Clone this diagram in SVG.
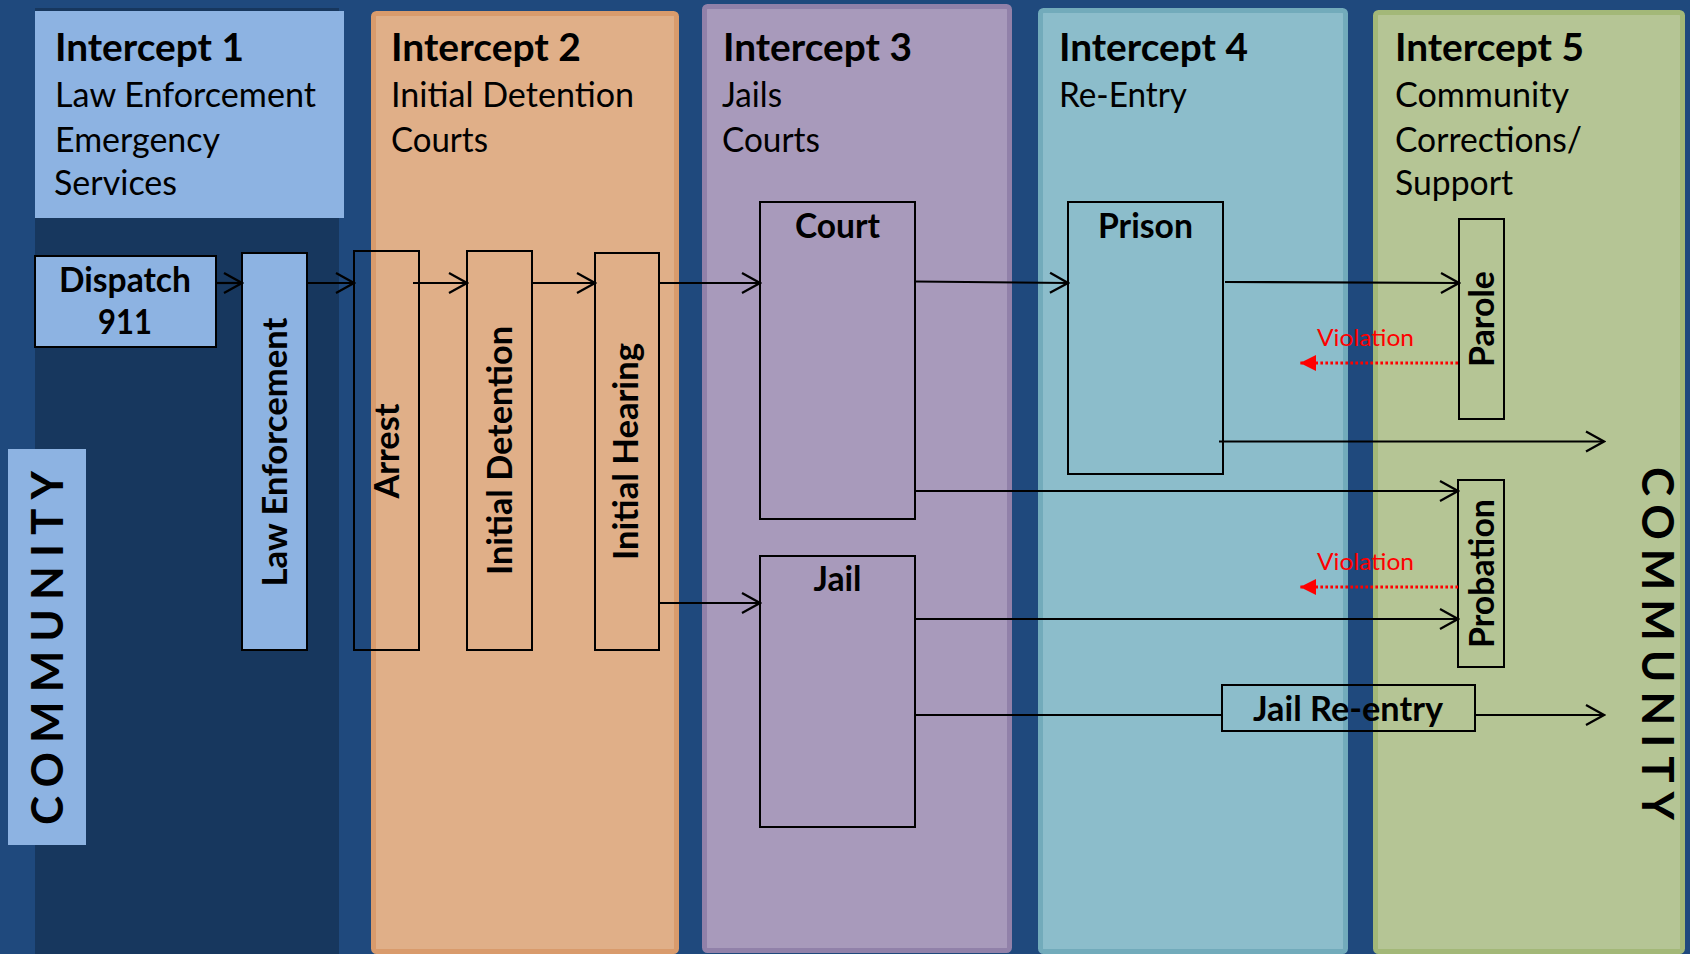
<svg xmlns="http://www.w3.org/2000/svg" width="1690" height="954" viewBox="0 0 1690 954">
<defs>
<style>
.t{font-family:Lato,'Liberation Sans',sans-serif;fill:#000}
.h{font-size:38px;font-weight:700}
.s{font-size:34px;font-weight:400}
.n{font-size:34px;font-weight:700}
.cm{font-size:44px;font-weight:700}
.vt{font-family:Lato,'Liberation Sans',sans-serif;font-size:24px;fill:#F00}
.box{fill:none;stroke:#000;stroke-width:2}
.lb{fill:#8DB3E2;stroke:#000;stroke-width:2}
.c{stroke:#000;stroke-width:2.2;fill:none}
.v{stroke:#F00;stroke-width:3;stroke-dasharray:2.6 2.4;fill:none}
</style>
<marker id="ah" markerUnits="userSpaceOnUse" viewBox="-21 -12 23 24" refX="0" refY="0" markerWidth="23" markerHeight="24" orient="auto"><path d="M-18,-10 L0,0 L-18,10" fill="none" stroke="#000" stroke-width="2.2"/></marker>
<marker id="rh" markerUnits="userSpaceOnUse" viewBox="-17 -9 18 18" refX="0" refY="0" markerWidth="18" markerHeight="18" orient="auto"><path d="M-16,-8 L0,0 L-16,8 Z" fill="#F00"/></marker>
</defs>

<rect x="0" y="0" width="1690" height="954" fill="#1F497D"/>

<g id="panels">
<rect x="35" y="8" width="304" height="946" fill="#17375E"/>
<rect x="35" y="11" width="309" height="207" fill="#8DB3E2"/>
<rect x="373.5" y="13.5" width="303" height="938" rx="3" fill="#E0AF88" stroke="#D99B6C" stroke-width="5"/>
<rect x="704.5" y="6.5" width="305" height="944" rx="3" fill="#A89ABB" stroke="#9181A9" stroke-width="5"/>
<rect x="1040.5" y="10.5" width="305" height="941" rx="3" fill="#8CBDCB" stroke="#72ABBB" stroke-width="5"/>
<rect x="1375.5" y="12.5" width="307" height="939" rx="3" fill="#B5C595" stroke="#A3B878" stroke-width="5"/>
</g>

<g id="headers" class="t">
<text class="t h" x="55" y="61" textLength="189" lengthAdjust="spacingAndGlyphs">Intercept 1</text>
<text class="t s" x="55" y="107" textLength="261" lengthAdjust="spacingAndGlyphs">Law Enforcement</text>
<text class="t s" x="55" y="152" textLength="165" lengthAdjust="spacingAndGlyphs">Emergency</text>
<text class="t s" x="54" y="195" textLength="123" lengthAdjust="spacingAndGlyphs">Services</text>

<text class="t h" x="391" y="61" textLength="190" lengthAdjust="spacingAndGlyphs">Intercept 2</text>
<text class="t s" x="391" y="107" textLength="243" lengthAdjust="spacingAndGlyphs">Initial Detention</text>
<text class="t s" x="391" y="152" textLength="97" lengthAdjust="spacingAndGlyphs">Courts</text>

<text class="t h" x="723" y="61" textLength="189" lengthAdjust="spacingAndGlyphs">Intercept 3</text>
<text class="t s" x="722" y="107" textLength="60" lengthAdjust="spacingAndGlyphs">Jails</text>
<text class="t s" x="722" y="152" textLength="98" lengthAdjust="spacingAndGlyphs">Courts</text>

<text class="t h" x="1059" y="61" textLength="189" lengthAdjust="spacingAndGlyphs">Intercept 4</text>
<text class="t s" x="1059" y="107" textLength="128" lengthAdjust="spacingAndGlyphs">Re-Entry</text>

<text class="t h" x="1395" y="61" textLength="189" lengthAdjust="spacingAndGlyphs">Intercept 5</text>
<text class="t s" x="1395" y="107" textLength="174" lengthAdjust="spacingAndGlyphs">Community</text>
<text class="t s" x="1395" y="152" textLength="187" lengthAdjust="spacingAndGlyphs">Corrections/</text>
<text class="t s" x="1395" y="195" textLength="118" lengthAdjust="spacingAndGlyphs">Support</text>
</g>

<g id="community-left">
<rect x="8" y="449" width="78" height="396" fill="#8DB3E2"/>
<text class="t cm" transform="translate(63,825) rotate(-90)" x="0" y="0" textLength="354" lengthAdjust="spacing">COMMUNITY</text>
</g>

<g id="community-right">
<text class="t cm" transform="translate(1642,467) rotate(90)" x="0" y="0" textLength="353" lengthAdjust="spacing">COMMUNITY</text>
</g>

<g id="dispatch">
<rect class="lb" x="35" y="256" width="181" height="91"/>
<text class="t n" x="125" y="292" text-anchor="middle" textLength="132" lengthAdjust="spacingAndGlyphs">Dispatch</text>
<text class="t n" x="125" y="334" text-anchor="middle" textLength="54" lengthAdjust="spacingAndGlyphs">911</text>
</g>

<g id="law-enforcement">
<rect class="lb" x="242" y="253" width="65" height="397"/>
<text class="t n" transform="translate(287,452) rotate(-90)" text-anchor="middle" textLength="269" lengthAdjust="spacingAndGlyphs">Law Enforcement</text>
</g>

<g id="arrest">
<rect class="box" x="354" y="251" width="65" height="399"/>
<text class="t n" transform="translate(399,451) rotate(-90)" text-anchor="middle" textLength="95" lengthAdjust="spacingAndGlyphs">Arrest</text>
</g>

<g id="initial-detention">
<rect class="box" x="467" y="251" width="65" height="399"/>
<text class="t n" transform="translate(512,450.5) rotate(-90)" text-anchor="middle" textLength="249" lengthAdjust="spacingAndGlyphs">Initial Detention</text>
</g>

<g id="initial-hearing">
<rect class="box" x="595" y="253" width="64" height="397"/>
<text class="t n" transform="translate(638,451.5) rotate(-90)" text-anchor="middle" textLength="217" lengthAdjust="spacingAndGlyphs">Initial Hearing</text>
</g>

<g id="court">
<rect class="box" x="760" y="202" width="155" height="317"/>
<text class="t n" x="837.5" y="238" text-anchor="middle" textLength="85" lengthAdjust="spacingAndGlyphs">Court</text>
</g>

<g id="jail">
<rect class="box" x="760" y="556" width="155" height="271"/>
<text class="t n" x="837.5" y="591" text-anchor="middle" textLength="48" lengthAdjust="spacingAndGlyphs">Jail</text>
</g>

<g id="prison">
<rect class="box" x="1068" y="202" width="155" height="272"/>
<text class="t n" x="1145.5" y="238" text-anchor="middle" textLength="95" lengthAdjust="spacingAndGlyphs">Prison</text>
</g>

<g id="parole">
<rect class="box" x="1459" y="219" width="45" height="200"/>
<text class="t n" transform="translate(1494,319) rotate(-90)" text-anchor="middle" textLength="96" lengthAdjust="spacingAndGlyphs">Parole</text>
</g>

<g id="probation">
<rect class="box" x="1458" y="480" width="46" height="187"/>
<text class="t n" transform="translate(1494,573.5) rotate(-90)" text-anchor="middle" textLength="149" lengthAdjust="spacingAndGlyphs">Probation</text>
</g>

<g id="jail-reentry">
<rect class="box" x="1222" y="685" width="253" height="46"/>
<text class="t n" x="1348" y="721" text-anchor="middle" textLength="190" lengthAdjust="spacingAndGlyphs">Jail Re-entry</text>
</g>

<g id="connectors">
<path class="c" d="M216,283 H242" marker-end="url(#ah)"/>
<path class="c" d="M307,283 H354" marker-end="url(#ah)"/>
<path class="c" d="M413,283 H467" marker-end="url(#ah)"/>
<path class="c" d="M532,283 H595" marker-end="url(#ah)"/>
<path class="c" d="M659,283 H760" marker-end="url(#ah)"/>
<path class="c" d="M659,603 H760" marker-end="url(#ah)"/>
<path class="c" d="M915,281.5 L1068,283" marker-end="url(#ah)"/>
<path class="c" d="M1225,282 L1459,283" marker-end="url(#ah)"/>
<path class="c" d="M1219,441.5 H1604" marker-end="url(#ah)"/>
<path class="c" d="M915,491 H1458" marker-end="url(#ah)"/>
<path class="c" d="M915,619 H1458" marker-end="url(#ah)"/>
<path class="c" d="M915,715 H1222"/>
<path class="c" d="M1475,715 H1604" marker-end="url(#ah)"/>
<path class="v" d="M1458,363 H1300" marker-end="url(#rh)"/>
<path class="v" d="M1458,587 H1300" marker-end="url(#rh)"/>
<text class="vt" x="1317" y="346" textLength="97" lengthAdjust="spacingAndGlyphs">Violation</text>
<text class="vt" x="1317" y="570" textLength="97" lengthAdjust="spacingAndGlyphs">Violation</text>
</g>
</svg>
